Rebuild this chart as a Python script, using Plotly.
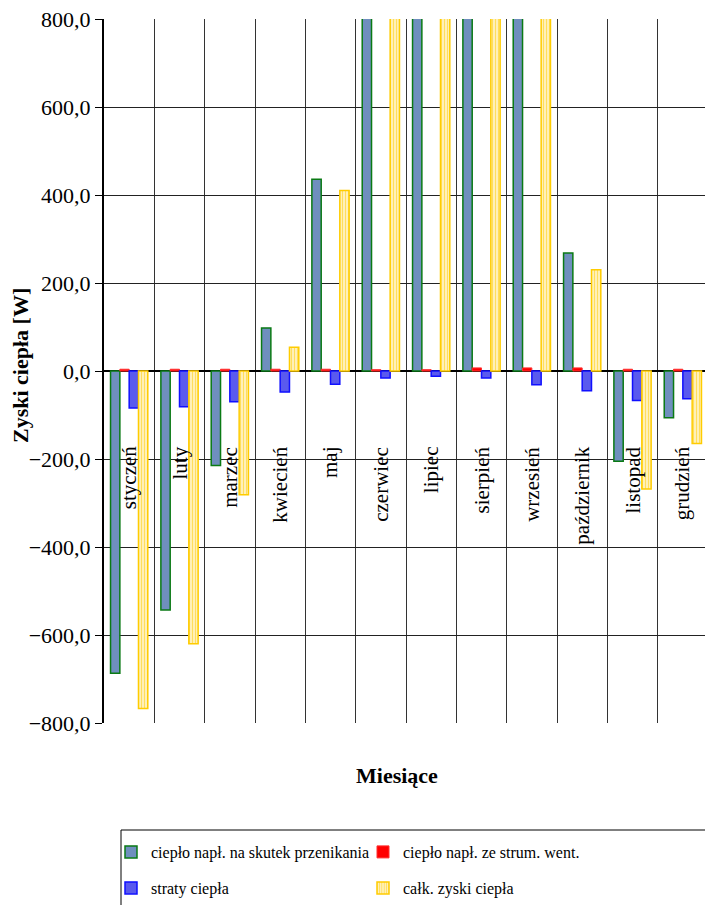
import plotly.graph_objects as go

months = ["styczeń", "luty", "marzec", "kwiecień", "maj", "czerwiec", "lipiec",
          "sierpień", "wrzesień", "październik", "listopad", "grudzień"]

przenikanie = [-687, -543, -215, 98, 436, 1100, 1300, 1250, 950, 268, -205, -106]
wentylacja = [4, 4, 4, 4, 4, 3, 3, 7, 7, 7, 4, 4]
straty = [-84, -81, -70, -48, -30, -16, -12, -16, -31, -45, -67, -63]
zyski = [-767, -620, -281, 54, 410, 1087, 1291, 1241, 926, 230, -268, -165]

names = ["ciepło napł. na skutek przenikania", "ciepło napł. ze strum. went.",
         "straty ciepła", "całk. zyski ciepła"]

ytick_vals = [-800, -600, -400, -200, 0, 200, 400, 600, 800]

FONT = "Liberation Serif"
W, H = 705, 905
L, R, T, B = 104, 0, 19, 182
PW = W - L - R
PH = H - T - B

fig = go.Figure()
fig.add_trace(go.Bar(x=months, y=przenikanie, name=names[0], legend="legend",
                     marker=dict(color="#6F8FBE", line=dict(color="#0A7A14", width=1.5))))
fig.add_trace(go.Bar(x=months, y=wentylacja, name=names[1], legend="legend",
                     marker=dict(color="#FF0000", line=dict(color="#FF3030", width=1))))
fig.add_trace(go.Bar(x=months, y=straty, name=names[2], legend="legend2",
                     marker=dict(color="#5A5AEE", line=dict(color="#1010FF", width=1.5))))
fig.add_trace(go.Bar(x=months, y=zyski, name=names[3], legend="legend2",
                     marker=dict(color="#FFE99A", line=dict(color="#FFCC00", width=1.5),
                                 pattern=dict(shape="|", fgcolor="#FFCC00", bgcolor="#FFF0B8",
                                              size=3, solidity=0.35))))

# category labels next to the zero axis, rotated
for m in months:
    fig.add_annotation(x=m, y=-167, xref="x", yref="y", text=m, textangle=-90,
                       showarrow=False, yanchor="top", xanchor="center",
                       font=dict(family=FONT, size=21, color="black"))

def px_to_paper_x(px):
    return (px - L) / PW

def px_to_paper_y(py):
    return (H - B - py) / PH

fig.add_annotation(x=px_to_paper_x(20), y=px_to_paper_y(366), xref="paper", yref="paper",
                   text="<b>Zyski ciepła [W]</b>", textangle=-90, showarrow=False,
                   xanchor="center", yanchor="middle",
                   font=dict(family=FONT, size=22, color="black"))
fig.add_annotation(x=px_to_paper_x(397), y=px_to_paper_y(775), xref="paper", yref="paper",
                   text="<b>Miesiące</b>", showarrow=False,
                   xanchor="center", yanchor="middle",
                   font=dict(family=FONT, size=22, color="black"))

# legend box
fig.add_shape(type="rect", xref="paper", yref="paper",
              x0=px_to_paper_x(121), x1=px_to_paper_x(760),
              y0=px_to_paper_y(960), y1=px_to_paper_y(830),
              line=dict(color="black", width=1), fillcolor="rgba(0,0,0,0)", layer="above")

legend_common = dict(orientation="h", xref="container", yref="container",
                     xanchor="left", yanchor="middle", entrywidth=207, entrywidthmode="pixels",
                     bgcolor="rgba(0,0,0,0)", borderwidth=0, itemwidth=30,
                     font=dict(family=FONT, size=16, color="black"), traceorder="normal")

fig.update_layout(
    width=W, height=H,
    margin=dict(l=L, r=R, t=T, b=B, pad=0),
    paper_bgcolor="white", plot_bgcolor="white",
    font=dict(family=FONT, color="black"),
    barmode="group", bargap=0.26, bargroupgap=0,
    separators=", ",
    showlegend=True,
    legend=dict(x=(121 - 10) / W, y=1 - 852 / H, **legend_common),
    legend2=dict(x=(121 - 10) / W, y=1 - 888 / H, **legend_common),
    xaxis=dict(type="category", categoryorder="array", categoryarray=months,
               range=[-0.5, 11.44], showticklabels=False, ticks="",
               tickson="boundaries", showgrid=True, gridcolor="#333333", gridwidth=1,
               showline=False, zeroline=False, fixedrange=True),
    yaxis=dict(range=[-800, 800], tickvals=ytick_vals, tickformat=".1f",
               ticks="outside", ticklen=7, tickcolor="black", tickwidth=1,
               showgrid=True, gridcolor="#222222", gridwidth=1,
               zeroline=True, zerolinecolor="black", zerolinewidth=2,
               showline=True, linecolor="black", linewidth=2,
               tickfont=dict(family=FONT, size=22, color="black"), fixedrange=True),
)

fig.write_html("out.html")
